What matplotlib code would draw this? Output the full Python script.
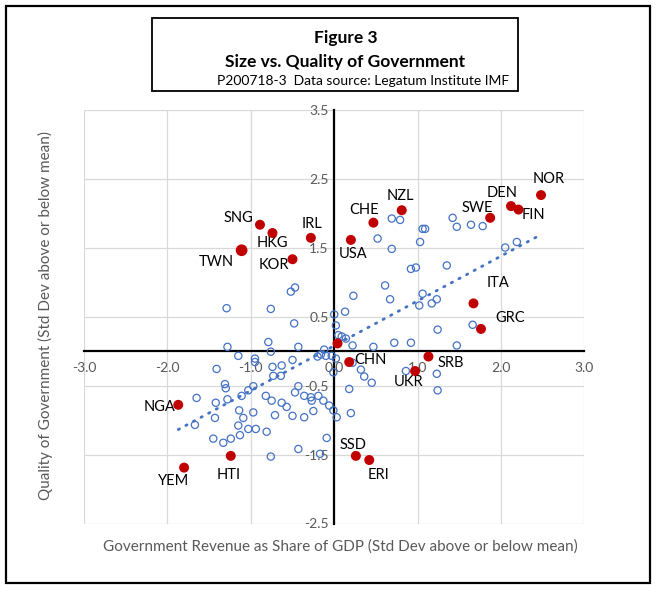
import numpy as np
import matplotlib.pyplot as plt
from matplotlib.patches import Rectangle

# -----------------------------
# Data
# x: revenue share of GDP (std dev), y: quality of government (std dev)
# -----------------------------
other_x = [-0.47, -0.52, -1.29, -0.76, -0.48, 0.00, 0.13, 0.02, -0.79, -1.28,
           -0.43, 0.05, 0.09, 0.14, -0.12, -0.76, -1.15, -0.95, -0.95, -0.50,
           -0.16, -0.20, -0.10, -0.03, 0.02, -0.74, -0.63, -0.73, -0.64, -0.01,
           -1.41, -1.31, -1.30, -1.28, -1.65, -1.42, -1.43, -1.67, -1.11, -1.03,
           -0.97, -0.82, -0.75, -0.63, -0.57, -0.47, -0.43, -0.36, -0.28, -0.27,
           -0.19, -0.13, -0.06, -0.01, -1.14, -0.97, -0.71, -0.50, -0.36, -0.25,
           0.03, -1.09, -1.15, -1.03, -0.94, -0.81, -1.13, -1.45, -1.33, -1.24,
           -0.76, -0.43, -0.17, -0.09, 0.20, 0.18,
           0.69, 0.79, 0.52, 0.69, 1.06, 1.09, 1.03, 1.42, 1.47, 1.64,
           1.78, 2.05, 2.19, 0.92, 0.98, 1.35, 0.61, 0.23, 0.67, 1.06,
           1.23, 1.17, 1.02, 1.66, 1.24, 0.22, 0.47, 0.72, 0.92, 1.47,
           0.22, 0.32, 0.36, 0.45, 0.86, 1.23, 1.24]
other_y = [0.92, 0.86, 0.62, 0.61, 0.40, 0.53, 0.57, 0.37, 0.13, 0.06,
           0.06, 0.23, 0.21, 0.18, 0.02, -0.01, -0.07, -0.11, -0.16, -0.13,
           -0.05, -0.08, -0.07, -0.07, -0.11, -0.23, -0.21, -0.36, -0.36, -0.31,
           -0.26, -0.48, -0.54, -0.70, -0.68, -0.75, -0.97, -1.07, -0.65, -0.57,
           -0.51, -0.65, -0.72, -0.75, -0.81, -0.60, -0.51, -0.65, -0.67, -0.72,
           -0.65, -0.72, -0.79, -0.86, -0.86, -0.89, -0.93, -0.94, -0.96, -0.87,
           -0.96, -0.97, -1.08, -1.13, -1.13, -1.17, -1.22, -1.27, -1.33, -1.27,
           -1.53, -1.42, -1.49, -1.26, -0.90, -0.55,
           1.92, 1.90, 1.63, 1.48, 1.77, 1.77, 1.58, 1.93, 1.80, 1.83,
           1.81, 1.50, 1.58, 1.19, 1.21, 1.24, 0.95, 0.80, 0.75, 0.83,
           0.75, 0.69, 0.66, 0.38, 0.31, 0.08, 0.06, 0.12, 0.12, 0.08,
           -0.17, -0.27, -0.37, -0.46, -0.29, -0.33, -0.57]

named_codes = ["SNG", "HKG", "IRL", "TWN", "KOR", "USA", "CHE", "NZL", "SWE",
               "DEN", "FIN", "NOR", "ITA", "GRC", "NGA", "YEM", "HTI", "CHN",
               "SRB", "UKR", "SSD", "ERI", ""]
named_x = [-0.89, -0.74, -0.28, -1.11, -0.50, 0.20, 0.47, 0.81, 1.87,
           2.12, 2.21, 2.48, 1.67, 1.76, -1.87, -1.80, -1.24, 0.18,
           1.13, 0.97, 0.26, 0.42, 0.04]
named_y = [1.83, 1.71, 1.64, 1.46, 1.33, 1.61, 1.86, 2.04, 1.93,
           2.10, 2.05, 2.26, 0.69, 0.32, -0.78, -1.69, -1.52, -0.16,
           -0.08, -0.29, -1.52, -1.58, 0.11]

x_ticks = [-3.0, -2.0, -1.0, 0.0, 1.0, 2.0, 3.0]
y_ticks = [-2.5, -1.5, -0.5, 0.5, 1.5, 2.5, 3.5]

# label offsets in pixels (style only)
label_offsets = {
    "SNG": (-22, 7), "HKG": (0, -10), "IRL": (1, 14), "TWN": (-25, -12),
    "KOR": (-19, -6), "USA": (2, -14), "CHE": (-9, 13), "NZL": (-1, 14),
    "SWE": (-13, 10), "DEN": (-9, 13), "FIN": (15, -5), "NOR": (8, 16),
    "ITA": (25, 20), "GRC": (29, 11), "NGA": (-19, -2), "YEM": (-10, -13),
    "HTI": (-2, -19), "CHN": (21, 2), "SRB": (22, -6), "UKR": (-7, -11),
    "SSD": (-3, 11), "ERI": (9, -15),
}

plt.rcParams['font.family'] = ['Lato', 'DejaVu Sans']

blue = '#4472C4'
red = '#C00000'
grey = '#595959'

fig = plt.figure(figsize=(6.56, 5.91), dpi=100)
ax = fig.add_axes([84 / 656, 1 - 523.5 / 591, 500.4 / 656, 414 / 591])

ax.set_xlim(-3, 3)
ax.set_ylim(-2.5, 3.5)
ax.set_xticks(x_ticks)
ax.set_yticks(y_ticks)
ax.set_xticklabels([f"{v:.1f}" for v in x_ticks])
ax.set_yticklabels([f"{v:.1f}" for v in y_ticks])
ax.grid(True, color='#D9D9D9', linewidth=0.9)
ax.set_axisbelow(True)

for side in ['top', 'right']:
    ax.spines[side].set_visible(False)
ax.spines['left'].set_position(('data', 0))
ax.spines['bottom'].set_position(('data', 0))
ax.spines['left'].set_linewidth(1.6)
ax.spines['bottom'].set_linewidth(1.6)
ax.tick_params(length=0, labelsize=10, labelcolor=grey)
ax.tick_params(axis='x', pad=8)
ax.tick_params(axis='y', pad=4)

# open circles
ax.scatter(other_x, other_y, s=27, facecolors='none', edgecolors=blue,
           linewidths=0.9, zorder=3)

# trendline over all points
all_x = np.array(other_x + named_x)
all_y = np.array(other_y + named_y)
m, b = np.polyfit(all_x, all_y, 1)
tx = np.array([all_x.min(), all_x.max()])
ax.plot(tx, m * tx + b, color=blue, linewidth=2.0,
        linestyle=(0, (0.5, 2.6)), dash_capstyle='round', zorder=3)

# highlighted countries
sizes = [55 if c == "TWN" else 38 for c in named_codes]
ax.scatter(named_x, named_y, s=sizes, color=red, zorder=4)
for c, x, y in zip(named_codes, named_x, named_y):
    if not c:
        continue
    dx, dy = label_offsets[c]
    ax.annotate(c, (x, y), xytext=(dx, dy), textcoords='offset pixels',
                ha='center', va='center', fontsize=10.5, color='black')

# axis titles
fig.text(340 / 656, 1 - 547 / 591,
         "Government Revenue as Share of GDP (Std Dev above or below mean)",
         ha='center', va='center', fontsize=11, color=grey)
fig.text(45 / 656, 1 - 316 / 591,
         "Quality of Government (Std Dev above or below mean)",
         ha='center', va='center', rotation=90, fontsize=11, color=grey)

# title box
fig.patches.append(Rectangle((151.7 / 656, 1 - 90.7 / 591), 366 / 656, 72.4 / 591,
                             transform=fig.transFigure, fill=False,
                             edgecolor='black', linewidth=1.3))
fig.text(346 / 656, 1 - 38.3 / 591, "Figure 3", ha='center', va='center',
         fontsize=12.5, fontweight='bold')
fig.text(345 / 656, 1 - 61.7 / 591, "Size vs. Quality of Government",
         ha='center', va='center', fontsize=12.5, fontweight='bold')
fig.text(363 / 656, 1 - 80.7 / 591, "P200718-3  Data source: Legatum Institute IMF",
         ha='center', va='center', fontsize=10)

# outer border
fig.patches.append(Rectangle((6 / 656, 1 - 583 / 591), 644 / 656, 577 / 591,
                             transform=fig.transFigure, fill=False,
                             edgecolor='black', linewidth=1.6))

plt.savefig("out.png", dpi=100)
